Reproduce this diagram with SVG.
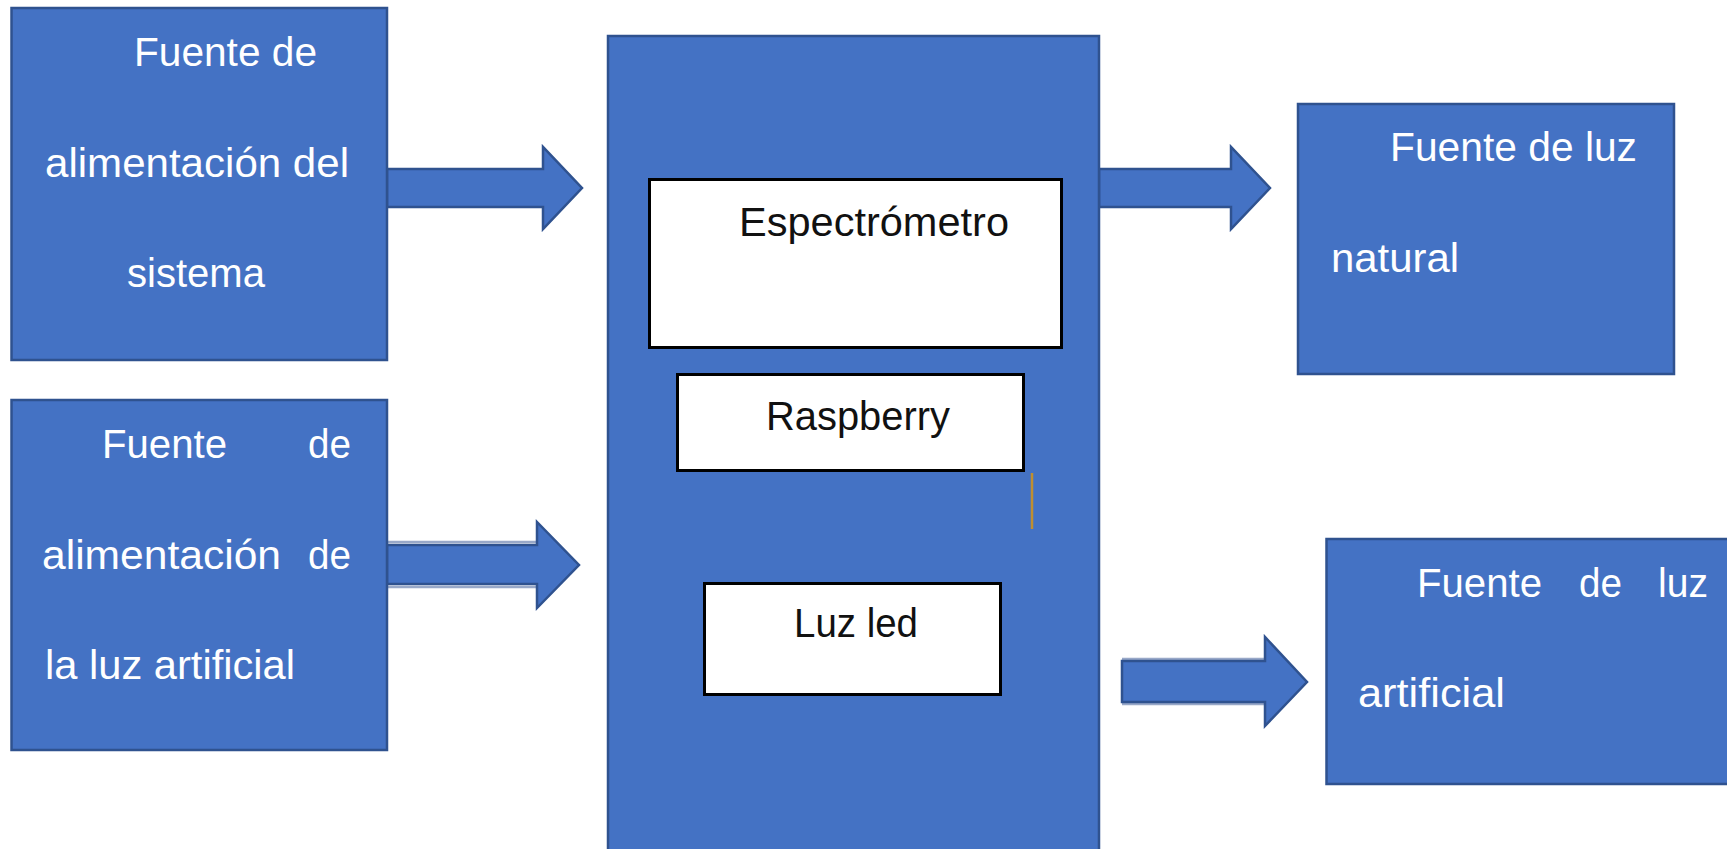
<svg xmlns="http://www.w3.org/2000/svg" width="1727" height="849" viewBox="0 0 1727 849">
  <style>
    .blk { fill: #4472C4; stroke: #2F528F; stroke-width: 2.5; }
    .part { fill: #FFFFFF; stroke: #000000; stroke-width: 3; }
    .arrow { fill: #4472C4; stroke: #2F528F; stroke-width: 2.5; stroke-linejoin: miter; }
    .halo { fill: none; stroke: #98A8C8; stroke-width: 2.5; }
    .wt { font-family: "Liberation Sans", Arial, sans-serif; font-size: 40px; fill: #FFFFFF; }
    .bt { font-family: "Liberation Sans", Arial, sans-serif; font-size: 40px; fill: #111111; }
  </style>
  <rect width="1727" height="849" fill="#FFFFFF"/>

  <!-- connectors: block arrows -->
  <g id="connectors">
    <path class="arrow" d="M387,169 H543 V147 L582,188 L543,229 V207 H387 Z"/>
    <line class="halo" x1="387" y1="542" x2="537" y2="542"/>
    <line class="halo" x1="387" y1="587" x2="537" y2="587"/>
    <path class="arrow" d="M387,545 H537 V522 L579,565 L537,608 V584 H387 Z"/>
    <path class="arrow" d="M1099,169 H1231 V147 L1270,188 L1231,229 V207 H1099 Z"/>
    <line class="halo" x1="1122" y1="659" x2="1265" y2="659"/>
    <line class="halo" x1="1122" y1="704" x2="1265" y2="704"/>
    <path class="arrow" d="M1122,661 H1265 V637 L1307,682 L1265,726 V702 H1122 Z"/>
  </g>

  <g id="power-system">
    <rect class="blk" x="11.5" y="8" width="375.5" height="352"/>
    <text class="wt" x="134" y="66" textLength="183" lengthAdjust="spacingAndGlyphs">Fuente de</text>
    <text class="wt" x="45" y="177" textLength="304" lengthAdjust="spacingAndGlyphs">alimentación del</text>
    <text class="wt" x="127" y="287" textLength="138" lengthAdjust="spacingAndGlyphs">sistema</text>
  </g>

  <g id="power-artificial-light">
    <rect class="blk" x="11.5" y="400" width="375.5" height="350"/>
    <text class="wt" x="102" y="458" textLength="125" lengthAdjust="spacingAndGlyphs">Fuente</text>
    <text class="wt" x="308" y="458" textLength="43" lengthAdjust="spacingAndGlyphs">de</text>
    <text class="wt" x="42" y="569" textLength="239" lengthAdjust="spacingAndGlyphs">alimentación</text>
    <text class="wt" x="308" y="569" textLength="43" lengthAdjust="spacingAndGlyphs">de</text>
    <text class="wt" x="45" y="679" textLength="250" lengthAdjust="spacingAndGlyphs">la luz artificial</text>
  </g>

  <g id="device">
    <rect class="blk" x="608" y="36" width="491" height="830"/>
    <line x1="1032" y1="473" x2="1032" y2="529" stroke="#BF8F30" stroke-width="2.5"/>
  </g>

  <g id="spectrometer">
    <rect class="part" x="649.5" y="179.5" width="412" height="168"/>
    <text class="bt" x="739" y="236" textLength="270" lengthAdjust="spacingAndGlyphs">Espectrómetro</text>
  </g>

  <g id="raspberry">
    <rect class="part" x="677.5" y="374.5" width="346" height="96"/>
    <text class="bt" x="766" y="430" textLength="184" lengthAdjust="spacingAndGlyphs">Raspberry</text>
  </g>

  <g id="led">
    <rect class="part" x="704.5" y="583.5" width="296" height="111"/>
    <text class="bt" x="794" y="637" textLength="124" lengthAdjust="spacingAndGlyphs">Luz led</text>
  </g>

  <g id="natural-light">
    <rect class="blk" x="1298" y="104" width="376" height="270"/>
    <text class="wt" x="1390" y="161" textLength="247" lengthAdjust="spacingAndGlyphs">Fuente de luz</text>
    <text class="wt" x="1331" y="272" textLength="128" lengthAdjust="spacingAndGlyphs">natural</text>
  </g>

  <g id="artificial-light">
    <rect class="blk" x="1326.5" y="539" width="420" height="245"/>
    <text class="wt" x="1417" y="597" textLength="125" lengthAdjust="spacingAndGlyphs">Fuente</text>
    <text class="wt" x="1579" y="597" textLength="43" lengthAdjust="spacingAndGlyphs">de</text>
    <text class="wt" x="1658" y="597" textLength="50" lengthAdjust="spacingAndGlyphs">luz</text>
    <text class="wt" x="1358" y="707" textLength="147" lengthAdjust="spacingAndGlyphs">artificial</text>
  </g>
</svg>
